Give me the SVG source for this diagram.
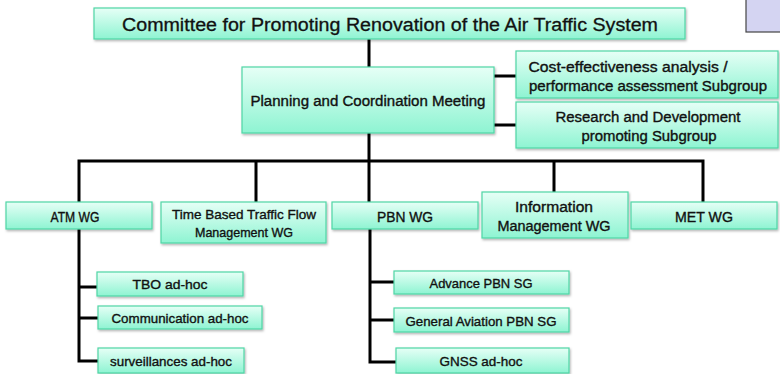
<svg xmlns="http://www.w3.org/2000/svg" width="780" height="374" viewBox="0 0 780 374">
<defs>
<linearGradient id="g" x1="0" y1="0" x2="0" y2="1">
<stop offset="0" stop-color="#e6fff6"/>
<stop offset="1" stop-color="#8ef4d2"/>
</linearGradient>
<filter id="sh" x="-5%" y="-10%" width="110%" height="130%">
<feDropShadow dx="1" dy="1.5" stdDeviation="0.8" flood-color="#000" flood-opacity="0.3"/>
</filter>
<style>
.box{fill:url(#g);stroke:#4fd6a6;stroke-width:1.2;filter:url(#sh)}
.ln{fill:none;stroke:#000;stroke-width:3;stroke-linejoin:miter}
text{font-family:"Liberation Sans","DejaVu Sans",sans-serif;font-size:14px;fill:#111;stroke:#111;stroke-width:0.35;text-anchor:middle}
.t{font-size:18px;stroke-width:0.3}
.s{font-size:13px}
</style>
</defs>
<rect width="780" height="374" fill="#fff"/>
<rect x="746" y="-2" width="40" height="34" fill="#d4d4f2" stroke="#444" stroke-width="1.2"/>
<g id="connectors">
<path class="ln" d="M369 39V161M494 76H516M494 125H516"/>
<path class="ln" d="M79 203V161H703V202M256 161V202M369 161V202M554 161V192"/>
<path class="ln" d="M79 229V361H98M79 287H97M79 318H98"/>
<path class="ln" d="M370 229V362H396M370 282H394M370 320H394"/>
</g>
<g id="committee"><rect class="box" x="94" y="8" width="591" height="31"/><text class="t" x="390" y="31" textLength="536" lengthAdjust="spacingAndGlyphs">Committee for Promoting  Renovation of the Air Traffic System</text></g>
<g id="planning"><rect class="box" x="242" y="67" width="252" height="66"/><text x="368" y="106" textLength="235" lengthAdjust="spacingAndGlyphs">Planning and Coordination Meeting</text></g>
<g id="cost"><rect class="box" x="516" y="51" width="262" height="47"/><text x="628" y="72" textLength="199" lengthAdjust="spacingAndGlyphs">Cost-effectiveness analysis /</text><text x="648" y="91" textLength="238" lengthAdjust="spacingAndGlyphs">performance assessment Subgroup</text></g>
<g id="rnd"><rect class="box" x="516" y="102" width="262" height="46"/><text x="648" y="122" textLength="185" lengthAdjust="spacingAndGlyphs">Research and Development</text><text x="649" y="141" textLength="135" lengthAdjust="spacingAndGlyphs">promoting Subgroup</text></g>
<g id="atm"><rect class="box" x="6" y="202" width="146" height="27"/><text x="75" y="222" textLength="49" lengthAdjust="spacingAndGlyphs">ATM WG</text></g>
<g id="tbfm"><rect class="box" x="161" y="202" width="165" height="41"/><text class="s" x="244" y="219" textLength="144" lengthAdjust="spacingAndGlyphs">Time Based Traffic Flow</text><text class="s" x="244" y="237" textLength="98" lengthAdjust="spacingAndGlyphs">Management WG</text></g>
<g id="pbn"><rect class="box" x="332" y="202" width="146" height="27"/><text x="405" y="222" textLength="56" lengthAdjust="spacingAndGlyphs">PBN WG</text></g>
<g id="info"><rect class="box" x="482" y="192" width="146" height="46"/><text x="554" y="212" textLength="78" lengthAdjust="spacingAndGlyphs">Information</text><text x="554" y="231" textLength="113" lengthAdjust="spacingAndGlyphs">Management WG</text></g>
<g id="met"><rect class="box" x="631" y="202" width="146" height="27"/><text x="704" y="222" textLength="58" lengthAdjust="spacingAndGlyphs">MET WG</text></g>
<g id="tbo"><rect class="box" x="97" y="272" width="146" height="24"/><text class="s" x="170" y="289" textLength="75" lengthAdjust="spacingAndGlyphs">TBO ad-hoc</text></g>
<g id="comm"><rect class="box" x="98" y="306" width="164" height="23"/><text class="s" x="180" y="323" textLength="137" lengthAdjust="spacingAndGlyphs">Communication ad-hoc</text></g>
<g id="surv"><rect class="box" x="98" y="348" width="146" height="25"/><text class="s" x="171" y="366" textLength="122" lengthAdjust="spacingAndGlyphs">surveillances ad-hoc</text></g>
<g id="adv"><rect class="box" x="394" y="271" width="175" height="23"/><text class="s" x="481" y="288" textLength="103" lengthAdjust="spacingAndGlyphs">Advance PBN SG</text></g>
<g id="ga"><rect class="box" x="394" y="308" width="175" height="24"/><text class="s" x="481" y="326" textLength="151" lengthAdjust="spacingAndGlyphs">General Aviation PBN SG</text></g>
<g id="gnss"><rect class="box" x="396" y="348" width="173" height="25"/><text class="s" x="481" y="366" textLength="83" lengthAdjust="spacingAndGlyphs">GNSS ad-hoc</text></g>
</svg>
